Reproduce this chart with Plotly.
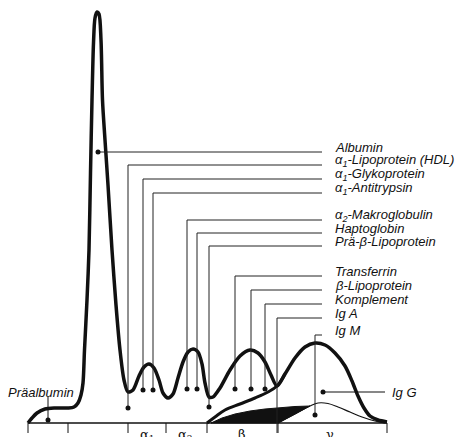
import plotly.graph_objects as go

# ---- data (migration position, relative intensity) ----
total_x = [28, 32, 37, 45, 55, 68, 74, 78, 81, 83, 84.5, 87, 89, 90.5, 92, 93.5, 95, 97, 99, 101, 102.5,
           105, 108, 112, 116, 120, 124, 128, 133, 139, 144, 149, 154, 159, 163, 168, 173, 178, 183,
           188, 193, 198, 202, 205, 209, 213, 220, 230, 240, 250, 258, 265, 271, 277, 285, 295, 305,
           315, 325, 335, 345, 352, 358, 364, 370, 378, 387]
total_h = [0, 5, 10, 14, 15, 15, 16, 20, 28, 40, 73, 123, 173, 250, 323, 380, 405, 411, 409, 383, 323,
           283, 238, 173, 118, 73, 43, 31, 33, 47, 56, 59, 55, 43, 30, 25, 29, 45, 61,
           71, 74, 71, 59, 40, 26, 26, 35, 53, 67, 73, 70, 61, 48, 37, 49, 65, 76,
           80, 78, 70, 57, 42, 27, 15, 7, 3, 1]

igg_x = [207, 215, 225, 240, 255, 268, 277, 285]
igg_h = [0, 6, 13, 19, 25, 31, 37, 49]

iga_x = [211, 222, 235, 250, 265, 280, 295, 310, 278, 211]
iga_h = [0, 5, 9, 12, 14, 15.5, 16.5, 17, 0, 0]

igm_x = [278, 295, 310, 318, 328, 338, 350, 362, 375, 385]
igm_h = [0, 9, 17, 20, 19.5, 16, 11, 6, 2, 0]

labels = ["Albumin",
          "α<sub>1</sub>-Lipoprotein (HDL)",
          "α<sub>1</sub>-Glykoprotein",
          "α<sub>1</sub>-Antitrypsin",
          "α<sub>2</sub>-Makroglobulin",
          "Haptoglobin",
          "Prä-β-Lipoprotein",
          "Transferrin",
          "β-Lipoprotein",
          "Komplement",
          "Ig A",
          "Ig M"]
leader_h = [271, 258, 244, 230, 203, 190, 177, 147, 133, 119, 105, 88]
leader_x = [98, 128, 143, 153, 187, 197, 209, 235, 251, 265, 277, 315]
dot_h = [271, 15, 33, 33, 34, 34, 16, 34, 34, 34, None, 8]

fraction_ticks = [28, 68, 128, 166, 207, 278, 387]
fraction_names = ["α<sub>1</sub>", "α<sub>2</sub>", "β", "γ"]
fraction_pos = [147, 185, 242, 330]

prealb_x, prealb_h = 48, 3
igg_dot_x, igg_dot_h = 323, 31

INK = "#111111"
FONT = dict(family="Liberation Sans, Arial", size=13, color=INK, style="italic")
fig = go.Figure()

# baseline and ticks
fig.add_trace(go.Scatter(x=[fraction_ticks[0], fraction_ticks[-1]], y=[0, 0], mode="lines",
                         line=dict(color=INK, width=1.5), hoverinfo="skip"))
for tx in fraction_ticks:
    fig.add_trace(go.Scatter(x=[tx, tx], y=[0, -10], mode="lines",
                             line=dict(color=INK, width=1), hoverinfo="skip"))

# IgA black fraction
fig.add_trace(go.Scatter(x=iga_x, y=iga_h, mode="lines", fill="toself", fillcolor=INK,
                         line=dict(color=INK, width=1), hoverinfo="skip"))
# IgM thin hump
fig.add_trace(go.Scatter(x=igm_x, y=igm_h, mode="lines", line=dict(color=INK, width=1.2, shape="spline"),
                         hoverinfo="skip"))
# IgG rising flank
fig.add_trace(go.Scatter(x=igg_x, y=igg_h, mode="lines", line=dict(color=INK, width=3, shape="spline"),
                         hoverinfo="skip"))
# total curve
fig.add_trace(go.Scatter(x=total_x, y=total_h, mode="lines",
                         line=dict(color=INK, width=3.5, shape="spline", smoothing=0.8), hoverinfo="skip"))

# leaders
END_X, TEXT_X = 322, 333
for lab, lh, lx, dh in zip(labels, leader_h, leader_x, dot_h):
    bottom = dh if dh is not None else -10
    fig.add_trace(go.Scatter(x=[lx, lx, END_X], y=[bottom, lh, lh], mode="lines",
                             line=dict(color="#222222", width=1), hoverinfo="skip"))
    if dh is not None:
        fig.add_trace(go.Scatter(x=[lx], y=[dh], mode="markers",
                                 marker=dict(color=INK, size=5), hoverinfo="skip"))
    fig.add_annotation(x=TEXT_X, y=lh + 4.5, text=lab, showarrow=False, xanchor="left", yanchor="middle",
                       font=FONT)

# IgG leader
fig.add_trace(go.Scatter(x=[igg_dot_x, 385], y=[igg_dot_h, igg_dot_h], mode="lines",
                         line=dict(color=INK, width=1.2), hoverinfo="skip"))
fig.add_trace(go.Scatter(x=[igg_dot_x], y=[igg_dot_h], mode="markers",
                         marker=dict(color=INK, size=5), hoverinfo="skip"))
fig.add_annotation(x=390, y=igg_dot_h, text="Ig G", showarrow=False, xanchor="left", yanchor="middle",
                   font=FONT)

# Präalbumin leader
fig.add_trace(go.Scatter(x=[prealb_x, prealb_x], y=[prealb_h, 26], mode="lines",
                         line=dict(color=INK, width=1), hoverinfo="skip"))
fig.add_trace(go.Scatter(x=[prealb_x], y=[prealb_h], mode="markers",
                         marker=dict(color=INK, size=5), hoverinfo="skip"))
fig.add_annotation(x=41, y=31, text="Präalbumin", showarrow=False, xanchor="center", yanchor="middle",
                   font=FONT)

# fraction labels (cut at the bottom edge)
for name, fx in zip(fraction_names, fraction_pos):
    fig.add_annotation(x=fx, y=-2, text=name, showarrow=False, xanchor="center", yanchor="top",
                       font=dict(family="DejaVu Serif", size=13, color=INK))

fig.update_layout(width=461, height=437, margin=dict(l=0, r=0, t=0, b=0),
                  paper_bgcolor="white", plot_bgcolor="white", showlegend=False,
                  xaxis=dict(range=[0, 461], visible=False, fixedrange=True),
                  yaxis=dict(range=[-14, 423], visible=False, fixedrange=True))
fig.write_html("out.html", config={"displayModeBar": False},
               post_script="document.body.style.margin='0px';document.body.style.padding='0px';")
